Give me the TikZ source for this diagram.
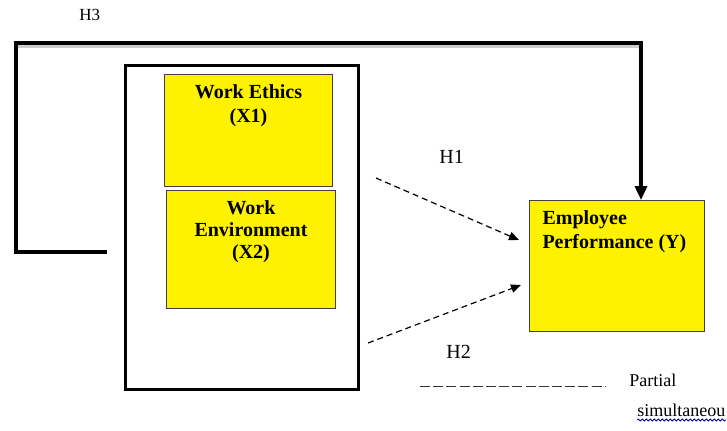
\documentclass[tikz,border=0pt]{standalone}
\usepackage{fontspec}
\setmainfont{Liberation Serif}
\usepackage{xcolor}
\usetikzlibrary{arrows.meta}
\usetikzlibrary{decorations.pathmorphing}
\colorlet{boxyellow}{yellow}
\colorlet{spellblue}{blue!70!black}
\tikzstyle{var}=[draw=black!75,fill=boxyellow,line width=.5pt,inner xsep=0pt,inner ysep=5pt,anchor=north west,font=\fontsize{10}{12}\selectfont\bfseries]
\tikzstyle{frame}=[draw,line width=1.5pt,inner sep=0pt,anchor=north west]
\tikzstyle{hyp}=[font=\fontsize{10}{12}\selectfont,inner sep=0pt,anchor=west]
\tikzstyle{partial}=[line width=.6pt,dash pattern=on 3pt off 2pt,-{Triangle[length=5pt,width=4.2pt]}]
\tikzstyle{simul}=[line width=2.2pt,line join=miter,-{Triangle[length=7pt,width=6pt]}]
\tikzstyle{shadow}=[line width=2pt,black!20,line join=miter]
\tikzstyle{spell}=[spellblue,line width=.4pt,decorate,decoration={snake,amplitude=.5pt,segment length=2pt}]

\begin{document}
\begin{tikzpicture}[x=.5pt,y=-.5pt]
	\useasboundingbox (0,0) rectangle (727,430);
	\node[frame,minimum width=116.5pt,minimum height=162pt] (group) at (124,64) {};
	\node[var] (ethics) at (164,74) {\parbox[t][46pt][t]{84pt}{\centering Work Ethics\\(X1)}};
	\node[var] (env) at (166,190) {\parbox[t][49pt][t]{84.5pt}{\centering\baselineskip=11pt Work\\Environment\\(X2)}};
	\node[var,inner xsep=6.5pt] (emp) at (529,200) {\parbox[t][55.5pt][t]{74.5pt}{\raggedright Employee\\Performance (Y)}};
	\coordinate (h3l) at (107,252);
	\coordinate (h3c) at (16,252);
	\coordinate (h3t) at (16,43);
	\coordinate (h3r) at (641,43);
	\draw[shadow] ([shift={(1pt,-1.5pt)}]h3t) -- ([shift={(1pt,-1.5pt)}]h3r);
	\draw[simul] (h3l) -- (h3c) -- (h3t) -- (h3r) -- (h3r |- emp.north);
	\node[hyp,font=\fontsize{8.5}{10}\selectfont] (h3) at (79,15) {H3};
	\coordinate (h1s) at (376,178);
	\coordinate (h1e) at (519,240);
	\coordinate (h2s) at (368,343);
	\coordinate (h2e) at (521,285);
	\draw[partial] (h1s) -- (h1e);
	\draw[partial] (h2s) -- (h2e);
	\node[hyp] (h1) at (439,157) {H1};
	\node[hyp] (h2) at (446,352) {H2};
	\coordinate (lgs) at (420,386);
	\coordinate (lge) at (606,386);
	\draw[line width=.5pt,black!80,dash pattern=on 5pt off 1.6pt] (lgs) -- (lge);
	\node[hyp,font=\fontsize{9}{11}\selectfont,anchor=base west] (part) at (629,386) {Partial};
	\node[hyp,font=\fontsize{9}{11}\selectfont,anchor=base west] (simu) at (637,416) {simultaneou};
	\draw[spell] ([yshift=-2pt]simu.base west) -- ([yshift=-2pt]simu.base east);
\end{tikzpicture}
\end{document}
